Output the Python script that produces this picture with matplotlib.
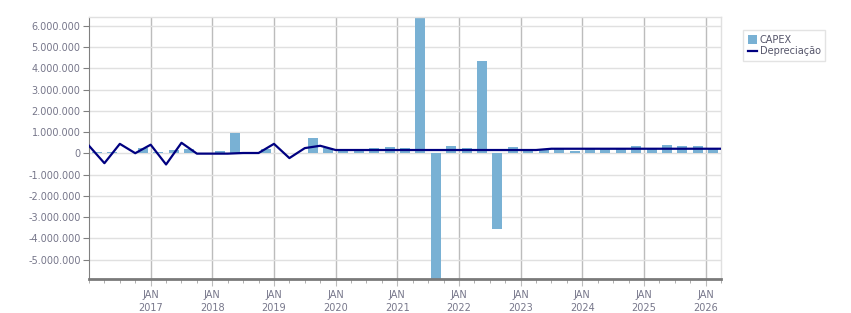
import matplotlib
matplotlib.use("Agg")
import matplotlib.pyplot as plt
from matplotlib.ticker import FuncFormatter, MultipleLocator, FixedLocator
from matplotlib.patches import Patch
from matplotlib.lines import Line2D
import numpy as np

# Quarterly data starting Q1 2016
start_year = 2016
capex = [0.09, 0.09, 0.02, 0.25, 0.05, 0.14, 0.20, 0.00, 0.11, 0.96,
         0.00, 0.20, 0.03, 0.03, 0.72, 0.25, 0.16, 0.16, 0.25, 0.30,
         0.25, 6.42, -5.91, 0.35, 0.25, 4.33, -3.57, 0.30, 0.18, 0.16,
         0.20, 0.11, 0.20, 0.20, 0.20, 0.35, 0.20, 0.39, 0.35, 0.35, 0.20]
depreciacao = [0.36, -0.46, 0.45, 0.01, 0.41, -0.52, 0.50, -0.01, -0.01, -0.01,
               0.02, 0.02, 0.45, -0.22, 0.25, 0.36, 0.16, 0.16, 0.16, 0.16,
               0.16, 0.16, 0.16, 0.16, 0.16, 0.16, 0.16, 0.16, 0.16, 0.16,
               0.22, 0.22, 0.22, 0.22, 0.22, 0.22, 0.22, 0.22, 0.22, 0.22,
               0.22, 0.22]
years = list(range(2017, 2027))
series_names = ["CAPEX", "Depreciação"]

capex_v = np.array(capex) * 1e6
dep_v = np.array(depreciacao) * 1e6

bar_color = "#79b1d4"
line_color = "#000080"
text_color = "#76768a"

fig = plt.figure(figsize=(8.51, 3.13), dpi=100)
ax = fig.add_axes([89/851, 34/313, (721-89)/851, (279-17)/313])

x_bar = np.arange(len(capex_v)) + 0.5
x_line = np.arange(len(dep_v))
ax.bar(x_bar, capex_v, width=0.65, color=bar_color, zorder=2)
ax.plot(x_line, dep_v, color=line_color, lw=1.6, zorder=3)

ax.set_xlim(0, len(dep_v) - 1)
ax.set_ylim(capex_v.min(), capex_v.max())

major_x = [4 * (y - start_year) for y in years]
ax.xaxis.set_major_locator(FixedLocator(major_x))
ax.set_xticklabels([f"JAN\n{y}" for y in years])
ax.xaxis.set_minor_locator(MultipleLocator(1))
ax.yaxis.set_major_locator(MultipleLocator(1e6))
ax.yaxis.set_major_formatter(FuncFormatter(lambda v, p: f"{int(round(v)):,}".replace(",", ".")))

ax.grid(axis="y", color="#e0e0e0", lw=1, zorder=0)
ax.grid(axis="x", which="major", color="#bcbcbc", lw=1, zorder=0)
ax.set_axisbelow(True)

for s in ["top", "right"]:
    ax.spines[s].set_color("#e0e0e0")
    ax.spines[s].set_linewidth(1)
ax.spines["left"].set_color("#808080")
ax.spines["bottom"].set_color("#7a7a7a")
ax.spines["bottom"].set_linewidth(2)

ax.tick_params(axis="y", which="major", length=4, color="#808080", labelsize=7, labelcolor=text_color, pad=2)
ax.tick_params(axis="x", which="major", length=5, color="#bcbcbc", labelsize=7, labelcolor=text_color, pad=3)
ax.tick_params(axis="x", which="minor", length=3, color="#a0a0a0")
for lbl in ax.get_xticklabels():
    lbl.set_linespacing(1.3)

handles = [Patch(facecolor=bar_color, edgecolor="none"),
           Line2D([0], [0], color=line_color, lw=1.6)]
leg = fig.legend(handles, series_names, loc="upper left", bbox_to_anchor=(743/851, 1 - 30/313),
                 fontsize=7, frameon=True, fancybox=False, handlelength=0.9, handleheight=0.9,
                 handletextpad=0.3, borderpad=0.5, labelspacing=0.15, borderaxespad=0)
leg.get_frame().set_edgecolor("#dddddd")
leg.get_frame().set_linewidth(1)
for t in leg.get_texts():
    t.set_color("#55556a")

fig.savefig("out.png", dpi=100)
